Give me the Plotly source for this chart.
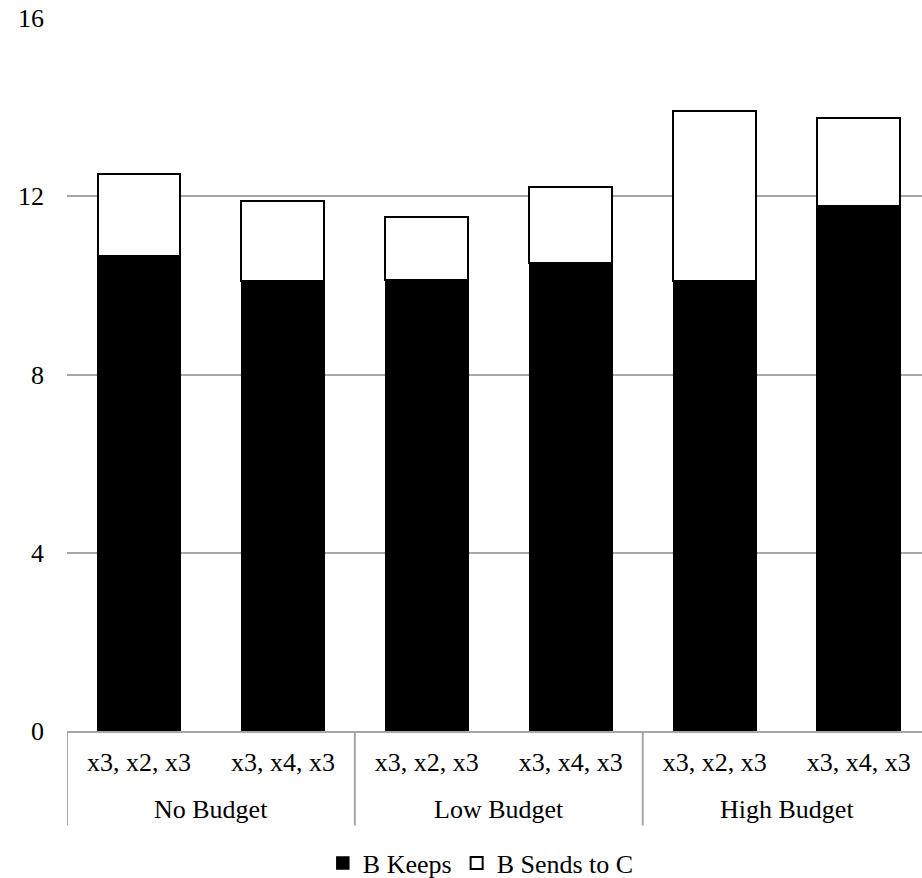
import plotly.graph_objects as go

# Budget conditions and multiplier treatments
groups = ["No Budget", "Low Budget", "High Budget"]
budgets = ["No Budget", "No Budget", "Low Budget", "Low Budget", "High Budget", "High Budget"]
treatments = ["x3, x2, x3", "x3, x4, x3", "x3, x2, x3", "x3, x4, x3", "x3, x2, x3", "x3, x4, x3"]

# Mean amounts
b_keeps = [10.66, 10.10, 10.12, 10.51, 10.10, 11.78]
b_sends = [1.84, 1.80, 1.41, 1.70, 3.81, 1.98]

y_ticks = [0, 4, 8, 12, 16]

FONT = "Liberation Serif, Times New Roman, serif"
GRID = "#a6a6a6"
PLOT_H = 878 - 18 - 147

pos = list(range(len(treatments)))

fig = go.Figure()
fig.add_trace(go.Bar(
    x=pos, y=b_keeps, name="B Keeps",
    marker=dict(color="black", line=dict(color="black", width=1.5)),
))
fig.add_trace(go.Bar(
    x=pos, y=b_sends, name="B Sends to C",
    marker=dict(color="white", line=dict(color="black", width=2)),
))

# Group labels under the treatment labels, with dividers between groups
for g in groups:
    idx = [i for i, b in enumerate(budgets) if b == g]
    fig.add_annotation(
        x=sum(idx) / len(idx), xref="x", y=-78.5 / PLOT_H, yref="paper",
        text=g, showarrow=False, yanchor="middle",
        font=dict(family=FONT, size=26, color="black"),
    )
bounds = [-0.5] + [i + 0.5 for i in range(len(budgets) - 1) if budgets[i] != budgets[i + 1]]
for b in bounds:
    fig.add_shape(
        type="line", xref="x", yref="paper", x0=b, x1=b, y0=0, y1=-94.5 / PLOT_H,
        line=dict(color=GRID, width=2), layer="above",
    )

fig.update_layout(
    width=922, height=878,
    barmode="stack", bargap=0.424,
    plot_bgcolor="white", paper_bgcolor="white",
    margin=dict(l=67, r=0, t=18, b=147, autoexpand=False),
    font=dict(family=FONT, size=26, color="black"),
    showlegend=True,
    legend=dict(
        orientation="h", x=0.484, xanchor="center",
        yref="container", y=0.017, yanchor="middle",
        font=dict(family=FONT, size=26, color="black"),
        itemwidth=30, traceorder="normal",
    ),
)
fig.update_xaxes(
    range=[-0.5, 5.44], automargin=False,
    tickvals=pos, ticktext=treatments,
    showline=True, linecolor=GRID, linewidth=2,
    showgrid=False, zeroline=False, ticks="",
    ticklabelstandoff=7,
    tickfont=dict(family=FONT, size=26, color="black"),
)
fig.update_yaxes(
    range=[0, 16], tickvals=y_ticks, ticktext=[str(v) for v in y_ticks],
    showgrid=True, gridcolor=GRID, gridwidth=2, automargin=False,
    zeroline=False, showline=False, ticks="",
    ticklabelstandoff=22,
    tickfont=dict(family=FONT, size=26, color="black"),
)

fig.write_html("out.html")
